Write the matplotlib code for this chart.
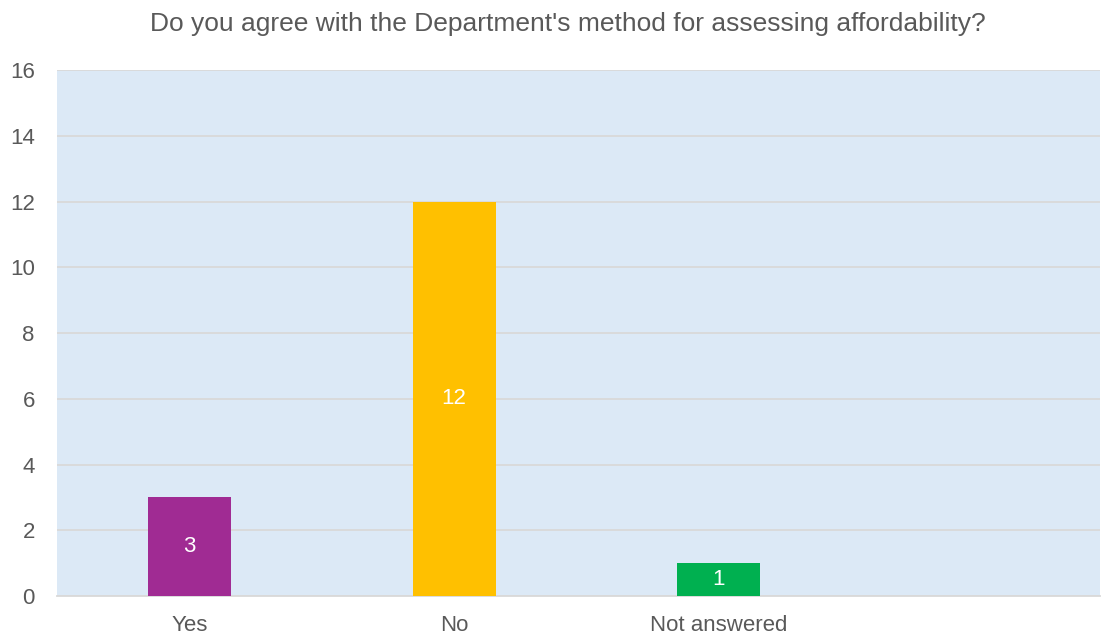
import matplotlib.pyplot as plt

categories = ["Yes", "No", "Not answered"]
counts = [3, 12, 1]
bar_colors = ["#A02B93", "#FFC000", "#00B050"]
y_ticks = [0, 2, 4, 6, 8, 10, 12, 14, 16]

plt.rcParams['font.family'] = ['Liberation Sans', 'DejaVu Sans']
text_color = "#595959"

fig = plt.figure(figsize=(11.05, 6.36), dpi=100)
ax = fig.add_axes([0.0516, 0.0629, 0.944, 0.827])
ax.set_facecolor("#DCE9F6")

# one bar per answer, count written in the middle of each bar
x = list(range(len(categories)))
bars = ax.bar(x, counts, width=0.314, color=bar_colors, zorder=3)
for rect, val in zip(bars, counts):
    ax.text(rect.get_x() + rect.get_width() / 2, val / 2, str(val),
            ha='center', va='center', color='white', fontsize=16, zorder=4)

ax.set_xlim(-0.5, 3.44)
ax.set_ylim(0, 16)
ax.set_yticks(y_ticks)
ax.set_xticks(x)
ax.set_xticklabels(categories)
ax.tick_params(axis='both', length=0, labelsize=16, labelcolor=text_color)
ax.tick_params(axis='x', pad=14)
ax.tick_params(axis='y', pad=16)

ax.grid(axis='y', color="#D9D9D9", linewidth=1.3, zorder=1)
for side in ['left', 'right', 'top']:
    ax.spines[side].set_visible(False)
ax.spines['bottom'].set_color("#D9D9D9")
ax.spines['bottom'].set_linewidth(1.3)

fig.text(0.5136, 0.962, "Do you agree with the Department's method for assessing affordability?",
         ha='center', va='center', fontsize=19, color=text_color)

fig.savefig("out.png", dpi=100)
